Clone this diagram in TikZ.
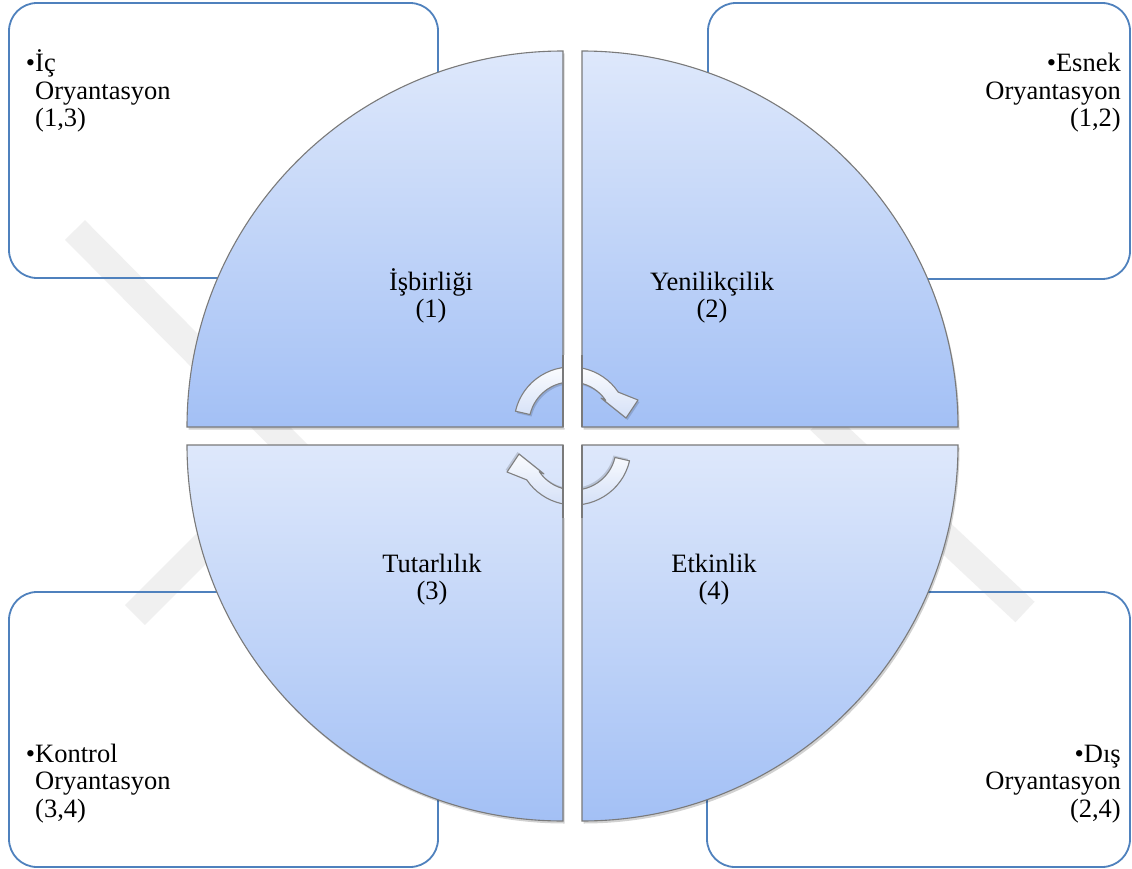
\documentclass[tikz,border=0pt]{standalone}
\usepackage{fontspec}
\setmainfont{Liberation Serif}
\definecolor{boxblue}{HTML}{4F81BD}
\definecolor{quadline}{HTML}{7A7A7A}
\definecolor{quadtop}{HTML}{DEE8FB}
\definecolor{quadbot}{HTML}{A3C0F5}
\definecolor{arrowline}{HTML}{808080}
\definecolor{arrowbot}{HTML}{D0DDF6}
\definecolor{wmark}{HTML}{F0F0F0}
\begin{document}
\begin{tikzpicture}[x=1pt,y=1pt,
  cornerbox/.style={draw=boxblue, line width=1.8pt, rounded corners=28pt},
  quad/.style={draw=quadline, line width=1.1pt, top color=quadtop, bottom color=quadbot},
  quadshadow/.style={fill=black, fill opacity=0.18},
  lbl/.style={inner sep=0pt, font=\fontsize{26.5}{27.5}\selectfont},
  cyc/.style={draw=arrowline, line width=1.1pt, top color=white, bottom color=arrowbot, line join=round},
  cycshadow/.style={fill=black, fill opacity=0.15},
  wband/.style={draw=wmark, line width=28pt, line cap=butt},
]
\useasboundingbox (0,0) rectangle (1132,-869);
\fill[white] (0,0) rectangle (1132,-869);

% faint watermark behind the diagram
\draw[wband] (75,-230) -- (330,-487);
\draw[wband] (135,-615) -- (235,-515);
\draw[wband] (820,-420) -- (1025,-612);

% corner boxes
\draw[cornerbox] (9,-3) rectangle (438,-278);
\draw[cornerbox] (708,-3) rectangle (1130,-279);
\draw[cornerbox] (9,-592) rectangle (438,-867);
\draw[cornerbox] (707,-592) rectangle (1130,-867);

% quadrant shadows
\begin{scope}[shift={(1.5,-2.5)}]
\fill[quadshadow] (563,-427) -- (187,-427) arc[start angle=180, end angle=90, radius=376] -- cycle;
\fill[quadshadow] (582,-427) -- (582,-51) arc[start angle=90, end angle=0, radius=376] -- cycle;
\fill[quadshadow] (563,-445) -- (187,-445) arc[start angle=180, end angle=270, radius=376] -- cycle;
\fill[quadshadow] (582,-445) -- (958,-445) arc[start angle=0, end angle=-90, radius=376] -- cycle;
\end{scope}

% quadrants
\draw[quad] (563,-427) -- (187,-427) arc[start angle=180, end angle=90, radius=376] -- cycle;
\draw[quad] (582,-427) -- (582,-51) arc[start angle=90, end angle=0, radius=376] -- cycle;
\draw[quad] (563,-445) -- (187,-445) arc[start angle=180, end angle=270, radius=376] -- cycle;
\draw[quad] (582,-445) -- (958,-445) arc[start angle=0, end angle=-90, radius=376] -- cycle;

% circular arrows (shadow, then arrow)
\foreach \rot in {0,180}{
\begin{scope}[rotate around={\rot:(572.5,-436)}]
\path[cycshadow, shift={(1.5,-2)}] (571,-424) ++(167:57) arc[start angle=167, end angle=34, radius=57]
  -- (638,-400) -- (626,-418) -- (601,-398) -- (605.8,-400.5)
  arc[start angle=34, end angle=167, radius=42] -- cycle;
\path[cyc] (571,-424) ++(167:57) arc[start angle=167, end angle=34, radius=57]
  -- (638,-400) -- (626,-418) -- (601,-398) -- (605.8,-400.5)
  arc[start angle=34, end angle=167, radius=42] -- cycle;
\end{scope}
}

% vertical gap seen through the arrows
\fill[white] (563.6,-355) rectangle (581.4,-427.6);
\fill[white] (563.6,-444.4) rectangle (581.4,-518);
\draw[quadline, line width=1.1pt] (563,-355) -- (563,-427) (582,-355) -- (582,-427)
  (563,-445) -- (563,-518) (582,-445) -- (582,-518);

% quadrant labels
\node[lbl, anchor=base] (q1) at (431,-290) {\begin{tabular}[t]{@{}c@{}}İşbirliği\\(1)\end{tabular}};
\node[lbl, anchor=base] (q2) at (712,-290) {\begin{tabular}[t]{@{}c@{}}Yenilikçilik\\(2)\end{tabular}};
\node[lbl, anchor=base] (q3) at (432,-572) {\begin{tabular}[t]{@{}c@{}}Tutarlılık\\(3)\end{tabular}};
\node[lbl, anchor=base] (q4) at (714,-572) {\begin{tabular}[t]{@{}c@{}}Etkinlik\\(4)\end{tabular}};

% corner texts
\node[lbl, anchor=base west] (c1) at (35,-72) {\begin{tabular}[t]{@{}l@{}}\llap{•}İç\\Oryantasyon\\(1,3)\end{tabular}};
\node[lbl, anchor=base east] (c2) at (1121,-72) {\begin{tabular}[t]{@{}r@{}}•Esnek\\Oryantasyon\\(1,2)\end{tabular}};
\node[lbl, anchor=base west] (c3) at (35,-762) {\begin{tabular}[t]{@{}l@{}}\llap{•}Kontrol\\Oryantasyon\\(3,4)\end{tabular}};
\node[lbl, anchor=base east] (c4) at (1121,-762) {\begin{tabular}[t]{@{}r@{}}•Dış\\Oryantasyon\\(2,4)\end{tabular}};
\end{tikzpicture}
\end{document}
